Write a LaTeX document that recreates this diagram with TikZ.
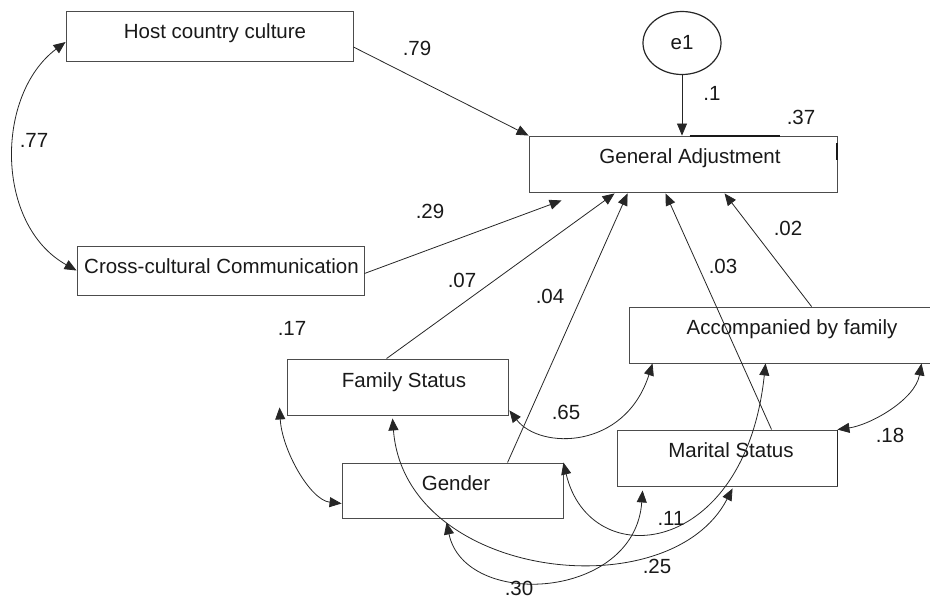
\documentclass[tikz,border=0pt]{standalone}
\usepackage{fontspec}
\setmainfont{Liberation Sans}
\usetikzlibrary{arrows.meta,calc,shapes.geometric}
\begin{document}
\begin{tikzpicture}[x=1pt,y=-1pt,
  every node/.style={font=\fontsize{20.5}{24}\selectfont, inner sep=0pt, text=black!90},
  box/.style={draw=black!70, line width=0.9pt, rectangle, fill=white},
  txt/.style={anchor=base},
  dirarrow/.style={draw=black!85, line width=0.8pt, -{Triangle[length=12pt,width=10pt]}},
  cov/.style={draw=black!85, line width=0.8pt, {Triangle[length=12pt,width=10pt]}-{Triangle[length=12pt,width=10pt]}},
]
\useasboundingbox (0,0) rectangle (930,600);
% boxes
\node[box, minimum width=287pt, minimum height=50pt] (host) at (209.5,36) {};
\node[box, minimum width=287pt, minimum height=49pt] (cross) at (220.5,270.5) {};
\node[box, minimum width=308pt, minimum height=56pt] (ga) at (683,164) {};
\node[box, minimum width=221pt, minimum height=56pt] (fs) at (397.5,387) {};
\node[box, minimum width=221pt, minimum height=55pt] (gender) at (452.5,490.5) {};
\node[box, minimum width=306pt, minimum height=56pt] (acc) at (782,335) {};
\node[box, minimum width=220pt, minimum height=56pt] (ms) at (727,458) {};
\node[draw=black!85, line width=1.2pt, ellipse, minimum width=78pt, minimum height=63pt] (e1) at (682,43) {e1};
% box texts
\node[txt] (hostT) at (215,38) {Host country culture};
\node[txt] (crossT) at (221.5,273) {Cross-cultural Communication};
\node[txt] (gaT) at (690,163) {General Adjustment};
\node[txt] (fsT) at (404,387) {Family Status};
\node[txt] (genderT) at (456,490) {Gender};
\node[txt] (accT) at (792,334) {Accompanied by family};
\node[txt] (msT) at (731,457) {Marital Status};
% emphasised edges
\draw[line width=2pt, black!90] ($(ga.north west)+(161,0)$) -- ($(ga.north west)+(251,0)$);
\draw[line width=2pt, black!90] ($(ga.north east)+(0,7)$) -- ($(ga.north east)+(0,24)$);
\draw[line width=1.6pt, black!85] (ms.north east) -- (ms.south east);
% directed paths
\draw[dirarrow] (e1.south) -- (e1.south |- ga.north);
\draw[dirarrow] ([yshift=-11pt]host.east) -- (ga.north west);
\draw[dirarrow] ([yshift=-3pt]cross.east) -- ($(ga.south west)+(33,8)$);
\draw[dirarrow] ($(fs.north west)+(100,0)$) -- ($(ga.south west)+(86,1)$);
\draw[dirarrow] ($(gender.north west)+(166,0)$) -- ($(ga.south west)+(99,1)$);
\draw[dirarrow] ($(ms.north west)+(155,0)$) -- ($(ga.south west)+(137,1)$);
\draw[dirarrow] ($(acc.north west)+(183,0)$) -- ($(ga.south west)+(196,1)$);
% covariances
\draw[cov] ([yshift=-6pt]host.west) .. controls (-5,95) and (-5,225) .. (cross.west);
\draw[cov] ($(fs.south west)+(-7,-8)$) .. controls (282,450) and (310,500) .. ($(gender.west)+(0,13)$);
\draw[cov] ($(fs.south east)+(1,-5)$) .. controls (540,450) and (625,450) .. ($(acc.south west)+(24,0)$);
\draw[cov] ($(acc.south west)+(293,0)$) .. controls (915,400) and (870,425) .. (ms.north east);
\draw[cov] (gender.north east) .. controls (590,575) and (745,558) .. ($(acc.south west)+(137,0)$);
\draw[cov] ($(fs.south west)+(106,3)$) .. controls (405,580) and (670,610) .. ($(ms.south west)+(116,2)$);
\draw[cov] ($(gender.south west)+(105,4)$) .. controls (465,610) and (635,600) .. ($(ms.south west)+(26,4)$);
% coefficients
\node[txt] (c79) at (417,55) {.79};
\node[txt] (c77) at (34,147) {.77};
\node[txt] (c29) at (430,218) {.29};
\node[txt] (c1) at (712,100) {.1};
\node[txt] (c37) at (801,124) {.37};
\node[txt] (c02) at (788,235) {.02};
\node[txt] (c03) at (723,273) {.03};
\node[txt] (c04) at (550,303) {.04};
\node[txt] (c07) at (462,287) {.07};
\node[txt] (c17) at (292,335) {.17};
\node[txt] (c65) at (566,419) {.65};
\node[txt] (c30) at (519,595) {.30};
\node[txt] (c18) at (890,442) {.18};
\node[txt] (c11) at (671,525) {.11};
\node[txt] (c25) at (657,573) {.25};
\end{tikzpicture}
\end{document}
